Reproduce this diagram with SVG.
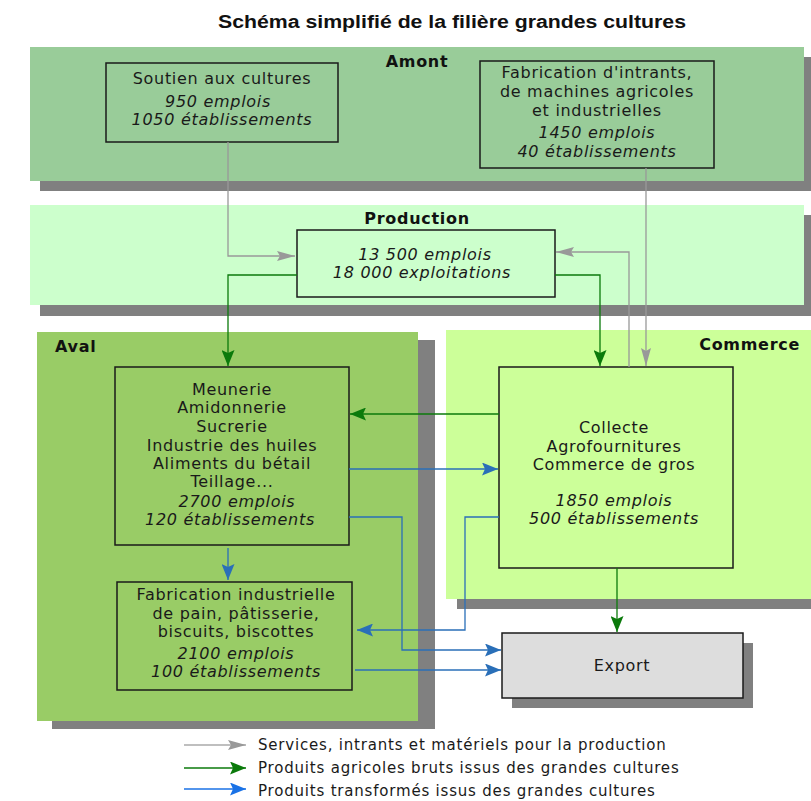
<svg xmlns="http://www.w3.org/2000/svg" width="811" height="801" viewBox="0 0 811 801">
<style>
.title{font-family:"Liberation Sans",Arial,sans-serif;font-weight:bold;font-size:18px;fill:#111}
.band{font-family:"DejaVu Sans",sans-serif;font-weight:bold;font-size:16px;letter-spacing:0.7px;fill:#111}
.t{font-family:"DejaVu Sans",sans-serif;font-size:16px;letter-spacing:0.7px;fill:#1a1a1a;text-anchor:middle}
.i{font-style:italic}
.lg{font-family:"DejaVu Sans",sans-serif;font-size:15px;letter-spacing:0.8px;fill:#1a1a1a}
.box{stroke:#1a1a1a;stroke-width:1.5}
.shadow{fill:#808080}
.c{fill:none;stroke-width:1.3}
.grey{stroke:#999999}
.green{stroke:#0b7a0b}
.blue{stroke:#2a6fb8}
</style>
<defs>
<marker id="ag" markerUnits="userSpaceOnUse" markerWidth="18" markerHeight="10" refX="18" refY="5" orient="auto"><path d="M0,0 L18,5 L0,10 L3,5 z" fill="#999999"/></marker>
<marker id="agr" markerUnits="userSpaceOnUse" markerWidth="16" markerHeight="13" refX="16" refY="6.5" orient="auto"><path d="M0,0 L16,6.5 L0,13 L3,6.5 z" fill="#0b7a0b"/></marker>
<marker id="ab" markerUnits="userSpaceOnUse" markerWidth="16" markerHeight="13" refX="16" refY="6.5" orient="auto"><path d="M0,0 L16,6.5 L0,13 L3,6.5 z" fill="#2a6fb8"/></marker>
<marker id="ab2" markerUnits="userSpaceOnUse" markerWidth="16" markerHeight="13" refX="16" refY="6.5" orient="auto"><path d="M0,0 L16,6.5 L0,13 L3,6.5 z" fill="#1a72e6"/></marker>
</defs>
<rect width="811" height="801" fill="#ffffff"/>
<text class="title" x="452" y="28" text-anchor="middle" textLength="468" lengthAdjust="spacingAndGlyphs">Schéma simplifié de la filière grandes cultures</text>

<g id="band-amont">
<rect class="shadow" x="40" y="57" width="774" height="134"/>
<rect x="30" y="47" width="774" height="134" fill="#99cc99"/>
<text class="band" x="417" y="67" text-anchor="middle">Amont</text>
</g>
<g id="band-production">
<rect class="shadow" x="40" y="215" width="774" height="101"/>
<rect x="30" y="205" width="774" height="100" fill="#ccffcc"/>
<text class="band" x="417" y="224" text-anchor="middle">Production</text>
</g>
<g id="band-aval">
<rect class="shadow" x="52" y="340" width="383" height="389"/>
<rect x="37" y="332" width="381" height="389" fill="#99cc66"/>
<text class="band" x="55" y="352">Aval</text>
</g>
<g id="band-commerce">
<rect class="shadow" x="457" y="340" width="360" height="269"/>
<rect x="446" y="330" width="370" height="269" fill="#ccff99"/>
<text class="band" x="800" y="350" text-anchor="end">Commerce</text>
</g>

<g id="node-soutien">
<rect class="box" x="106" y="63" width="232" height="79" fill="none"/>
<text class="t" x="222" y="84">Soutien aux cultures</text>
<text class="t i" x="218" y="107">950 emplois</text>
<text class="t i" x="222" y="125">1050 établissements</text>
</g>
<g id="node-intrants">
<rect class="box" x="480" y="61" width="234" height="107" fill="none"/>
<text class="t" x="597" y="78">Fabrication d'intrants,</text>
<text class="t" x="597" y="97">de machines agricoles</text>
<text class="t" x="597" y="116">et industrielles</text>
<text class="t i" x="597" y="138">1450 emplois</text>
<text class="t i" x="597" y="157">40 établissements</text>
</g>
<g id="node-production">
<rect class="box" x="297" y="230" width="258" height="67" fill="#ccffcc"/>
<text class="t i" x="425" y="260">13 500 emplois</text>
<text class="t i" x="422" y="278">18 000 exploitations</text>
</g>
<g id="node-meunerie">
<rect class="box" x="115" y="367" width="234" height="178" fill="none"/>
<text class="t" x="232" y="395">Meunerie</text>
<text class="t" x="232" y="413">Amidonnerie</text>
<text class="t" x="232" y="432">Sucrerie</text>
<text class="t" x="232" y="451">Industrie des huiles</text>
<text class="t" x="232" y="469">Aliments du bétail</text>
<text class="t" x="232" y="487">Teillage...</text>
<text class="t i" x="237" y="507">2700 emplois</text>
<text class="t i" x="230" y="525">120 établissements</text>
</g>
<g id="node-fabrication">
<rect class="box" x="117" y="582" width="235" height="108" fill="none"/>
<text class="t" x="236" y="600">Fabrication industrielle</text>
<text class="t" x="236" y="619">de pain, pâtisserie,</text>
<text class="t" x="236" y="637">biscuits, biscottes</text>
<text class="t i" x="236" y="659">2100 emplois</text>
<text class="t i" x="236" y="677">100 établissements</text>
</g>
<g id="node-collecte">
<rect class="box" x="499" y="367" width="234" height="201" fill="#ccff99"/>
<text class="t" x="614" y="433">Collecte</text>
<text class="t" x="614" y="452">Agrofournitures</text>
<text class="t" x="614" y="470">Commerce de gros</text>
<text class="t i" x="614" y="506">1850 emplois</text>
<text class="t i" x="614" y="524">500 établissements</text>
</g>
<g id="node-export">
<rect class="shadow" x="512" y="643" width="241" height="65"/>
<rect class="box" x="502" y="633" width="241" height="65" fill="#dddddd"/>
<text class="t" x="622" y="671">Export</text>
</g>

<g id="connectors">
<path class="c grey" d="M228,142 V256 H295" marker-end="url(#ag)"/>
<path class="c grey" d="M646,168 V366" marker-end="url(#ag)"/>
<path class="c grey" d="M629,367 V252 H556" marker-end="url(#ag)"/>
<path class="c green" d="M297,275 H228 V366" marker-end="url(#agr)"/>
<path class="c green" d="M555,275 H600 V366" marker-end="url(#agr)"/>
<path class="c green" d="M499,414 H350" marker-end="url(#agr)"/>
<path class="c green" d="M617,568 V632" marker-end="url(#agr)"/>
<path class="c blue" d="M349,469 H498" marker-end="url(#ab)"/>
<path class="c blue" d="M349,517 H402 V650 H501" marker-end="url(#ab)"/>
<path class="c blue" d="M228,548 V580" marker-end="url(#ab)"/>
<path class="c blue" d="M499,517 H465 V630 H357" marker-end="url(#ab)"/>
<path class="c blue" d="M355,670 H501" marker-end="url(#ab)"/>
</g>

<g id="legend">
<path class="c" stroke="#aaaaaa" d="M184,745 H246" marker-end="url(#ag)"/>
<path class="c green" d="M184,768 H246" marker-end="url(#agr)"/>
<path class="c" stroke="#1a72e6" d="M184,789 H246" marker-end="url(#ab2)"/>
<text class="lg" x="258" y="750">Services, intrants et matériels pour la production</text>
<text class="lg" x="258" y="773">Produits agricoles bruts issus des grandes cultures</text>
<text class="lg" x="258" y="796">Produits transformés issus des grandes cultures</text>
</g>
</svg>
